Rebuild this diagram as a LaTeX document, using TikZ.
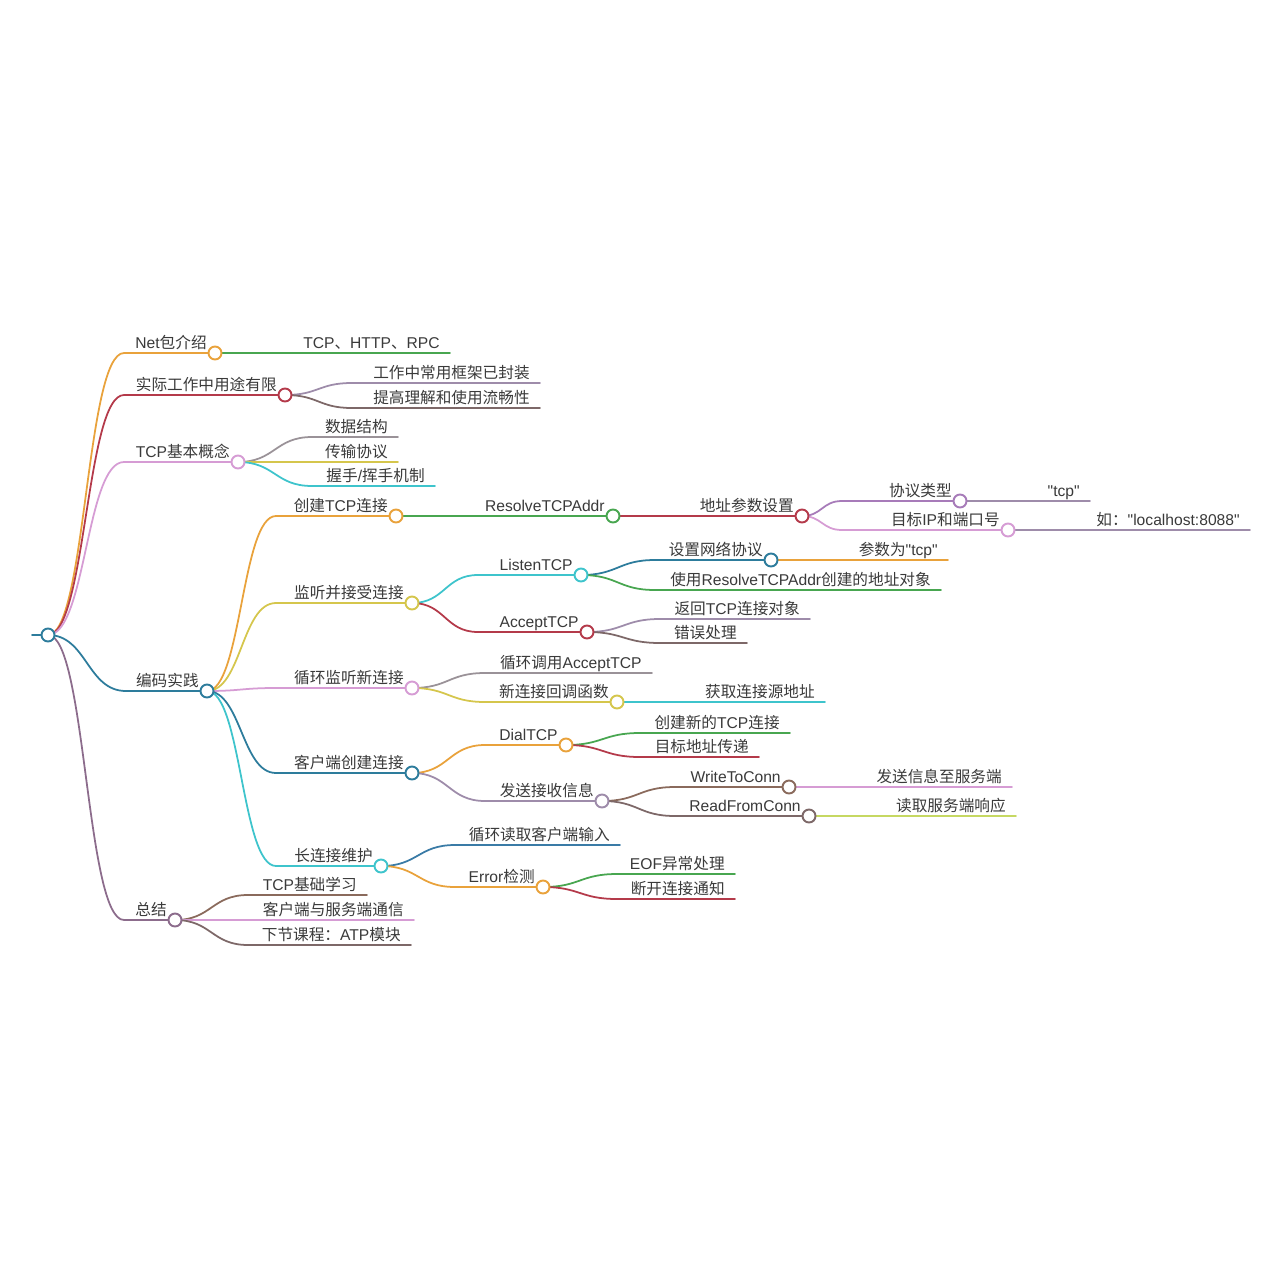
\documentclass[tikz,border=0pt]{standalone}
\usepackage{fontspec}
\setmainfont{Liberation Sans}
\newfontfamily\plain{Liberation Sans}
\newfontfamily\cjk{Noto Sans CJK SC}
\usetikzlibrary{calc}
\definecolor{ink}{HTML}{3A3A3A}
\definecolor{orng}{HTML}{E9A23B}
\definecolor{crim}{HTML}{B43A4A}
\definecolor{lila}{HTML}{D69CD4}
\definecolor{sea}{HTML}{2D7C9C}
\definecolor{plum}{HTML}{8C6C8C}
\definecolor{grn}{HTML}{48A650}
\definecolor{mauve}{HTML}{9E8CAA}
\definecolor{taupe}{HTML}{7D6868}
\definecolor{brwn}{HTML}{8A6A5C}
\definecolor{mustard}{HTML}{D5C64C}
\definecolor{aqua}{HTML}{3EC4CC}
\definecolor{ygrn}{HTML}{C6D862}
\definecolor{steel}{HTML}{3A7BA6}
\definecolor{purp}{HTML}{A77BB9}
\definecolor{ash}{HTML}{9A9298}
\pgfdeclarelayer{bg}
\pgfdeclarelayer{wires}
\pgfsetlayers{bg,wires,main}
\newcommand{\zh}[1]{{\cjk #1}}
\newcommand{\dq}{{\plain\symbol{34}}}
\tikzset{
  knob/.style={circle,draw=#1,fill=white,line width=1.1pt,minimum size=0.26cm,inner sep=0pt},
  lbl/.style={anchor=base east,inner sep=0pt,text=ink,font=\fontsize{8.9}{10}\selectfont},
  br/.style={draw=#1,line width=1pt,line cap=round},
}
% \kid{parent}{name}{colour}{start x}{y}{circle x}{text}
\newcommand{\kid}[7]{%
  \coordinate (#2s) at (#4,#5);
  \node[knob=#3] (#2) at (#6,#5) {};
  \node[lbl] (#2t) at (#6-8,#5-5) {#7};
  \begin{pgfonlayer}{wires}
  \draw[br=#3] (#1.center) .. controls ($(#1.center)!.5!(#1.center-|#2s)$) and ($(#2s)!.5!(#2s-|#1.center)$) .. (#2s) -- (#2.center);
  \end{pgfonlayer}}
% \leaf{parent}{name}{colour}{start x}{y}{end x}{text}
\newcommand{\leaf}[7]{%
  \coordinate (#2s) at (#4,#5);
  \coordinate (#2) at (#6,#5);
  \node[lbl] (#2t) at (#6-10,#5-5) {#7};
  \begin{pgfonlayer}{wires}
  \draw[br=#3] (#1.center) .. controls ($(#1.center)!.5!(#1.center-|#2s)$) and ($(#2s)!.5!(#2s-|#1.center)$) .. (#2s) -- (#2);
  \end{pgfonlayer}}

\begin{document}
\begin{tikzpicture}[x=0.02cm,y=-0.02cm]
\begin{pgfonlayer}{bg}
\fill[white] (0,0) rectangle (1280,1280);
\end{pgfonlayer}
\useasboundingbox (0,0) rectangle (1280,1280);

% root
\node[knob=sea] (root) at (48,635) {};
\coordinate (tail) at (32,635);
\begin{pgfonlayer}{wires}\draw[br=sea] (tail) -- (root.center);\end{pgfonlayer}

% net package
\kid{root}{net}{orng}{124}{353}{215}{Net\zh{包介绍}}
\leaf{net}{n1}{grn}{215}{353}{450}{TCP\zh{、}HTTP\zh{、}RPC}

% use at work
\kid{root}{work}{crim}{124}{395}{285}{\zh{实际工作中用途有限}}
\leaf{work}{w1}{mauve}{352}{383}{540}{\zh{工作中常用框架已封装}}
\leaf{work}{w2}{taupe}{352}{408}{540}{\zh{提高理解和使用流畅性}}

% basics
\kid{root}{tcpb}{lila}{124}{462}{238}{TCP\zh{基本概念}}
\leaf{tcpb}{t1}{ash}{312}{437}{398}{\zh{数据结构}}
\leaf{tcpb}{t2}{mustard}{312}{462}{398}{\zh{传输协议}}
\leaf{tcpb}{t3}{aqua}{312}{486}{435}{\zh{握手}/\zh{挥手机制}}

% coding
\kid{root}{code}{sea}{126}{691}{207}{\zh{编码实践}}

\kid{code}{mk}{orng}{276}{516}{396}{\zh{创建}TCP\zh{连接}}
\kid{mk}{rs}{grn}{396}{516}{613}{ResolveTCPAddr}
\kid{rs}{ap}{crim}{613}{516}{802}{\zh{地址参数设置}}
\kid{ap}{apa}{purp}{842}{501}{960}{\zh{协议类型}}
\leaf{apa}{apaa}{mauve}{960}{501}{1090}{\dq tcp\dq}
\kid{ap}{apb}{lila}{842}{530}{1008}{\zh{目标}IP\zh{和端口号}}
\leaf{apb}{apbb}{mauve}{1008}{530}{1250}{\zh{如：}\dq localhost:8088\dq}

\kid{code}{lsn}{mustard}{276}{603}{412}{\zh{监听并接受连接}}
\kid{lsn}{ltcp}{aqua}{478}{575}{581}{ListenTCP}
\kid{ltcp}{proto}{sea}{655}{560}{771}{\zh{设置网络协议}}
\leaf{proto}{protoa}{orng}{771}{560}{948}{\zh{参数为}\dq tcp\dq}
\leaf{ltcp}{addr}{grn}{655}{590}{941}{\zh{使用}ResolveTCPAddr\zh{创建的地址对象}}
\kid{lsn}{acc}{crim}{478}{632}{587}{AcceptTCP}
\leaf{acc}{acca}{mauve}{660}{619}{810}{\zh{返回}TCP\zh{连接对象}}
\leaf{acc}{accb}{taupe}{660}{643}{747}{\zh{错误处理}}

\kid{code}{loop}{lila}{276}{688}{412}{\zh{循环监听新连接}}
\leaf{loop}{loopa}{ash}{485}{673}{652}{\zh{循环调用}AcceptTCP}
\kid{loop}{cb}{mustard}{485}{702}{617}{\zh{新连接回调函数}}
\leaf{cb}{cba}{aqua}{617}{702}{825}{\zh{获取连接源地址}}

\kid{code}{cli}{sea}{276}{773}{412}{\zh{客户端创建连接}}
\kid{cli}{dial}{orng}{485}{745}{566}{DialTCP}
\leaf{dial}{diala}{grn}{640}{733}{790}{\zh{创建新的}TCP\zh{连接}}
\leaf{dial}{dialb}{crim}{640}{757}{759}{\zh{目标地址传递}}
\kid{cli}{msg}{mauve}{485}{801}{602}{\zh{发送接收信息}}
\kid{msg}{wr}{brwn}{675}{787}{789}{WriteToConn}
\leaf{wr}{wra}{lila}{789}{787}{1012}{\zh{发送信息至服务端}}
\kid{msg}{rd}{taupe}{675}{816}{809}{ReadFromConn}
\leaf{rd}{rda}{ygrn}{809}{816}{1016}{\zh{读取服务端响应}}

\kid{code}{keep}{aqua}{276}{866}{381}{\zh{长连接维护}}
\leaf{keep}{keepa}{steel}{455}{845}{620}{\zh{循环读取客户端输入}}
\kid{keep}{err}{orng}{455}{887}{543}{Error\zh{检测}}
\leaf{err}{erra}{grn}{617}{874}{735}{EOF\zh{异常处理}}
\leaf{err}{errb}{crim}{617}{899}{735}{\zh{断开连接通知}}

% summary
\kid{root}{sum}{plum}{124}{920}{175}{\zh{总结}}
\leaf{sum}{suma}{brwn}{248}{895}{367}{TCP\zh{基础学习}}
\leaf{sum}{sumb}{lila}{248}{920}{414}{\zh{客户端与服务端通信}}
\leaf{sum}{sumc}{taupe}{248}{945}{411}{\zh{下节课程：}ATP\zh{模块}}
\end{tikzpicture}
\end{document}
